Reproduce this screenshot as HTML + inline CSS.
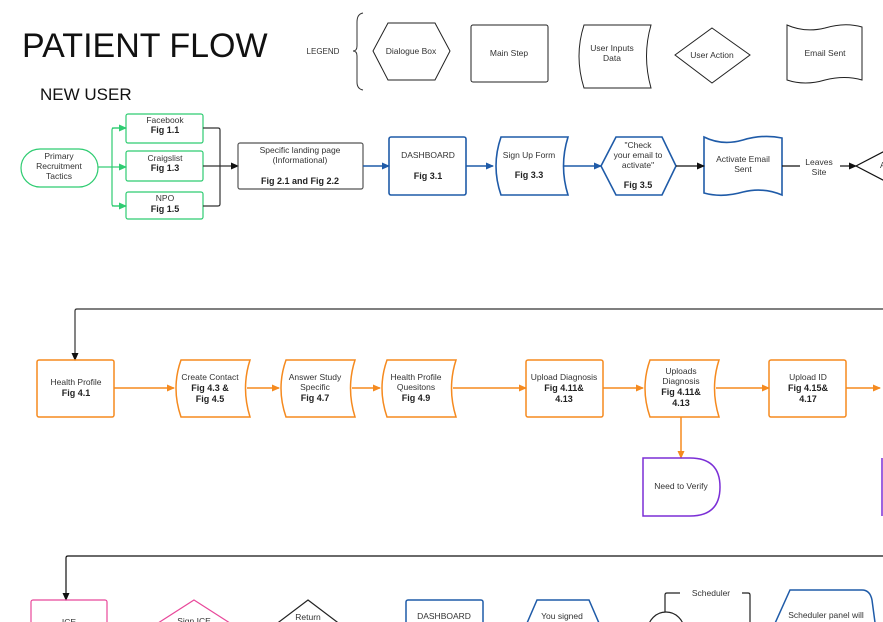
<!DOCTYPE html>
<html><head><meta charset="utf-8"><style>
html,body{margin:0;padding:0;background:#fff;}
svg{display:block;font-family:"Liberation Sans",sans-serif;}
text{fill:#333;font-size:8.5px;text-anchor:middle;}
.b{font-weight:bold;fill:#222;font-size:9px;}
</style></head><body>
<svg width="883" height="622" viewBox="0 0 883 622" xmlns="http://www.w3.org/2000/svg">
<defs>
<marker id="ak" markerWidth="8" markerHeight="8" refX="7" refY="4" orient="auto" markerUnits="userSpaceOnUse"><path d="M0,0.5 L8,4 L0,7.5z" fill="#111"/></marker>
<marker id="ag" markerWidth="8" markerHeight="8" refX="7" refY="4" orient="auto" markerUnits="userSpaceOnUse"><path d="M0,0.5 L8,4 L0,7.5z" fill="#2ecc71"/></marker>
<marker id="ab" markerWidth="8" markerHeight="8" refX="7" refY="4" orient="auto" markerUnits="userSpaceOnUse"><path d="M0,0.5 L8,4 L0,7.5z" fill="#1f5ba8"/></marker>
<marker id="ao" markerWidth="8" markerHeight="8" refX="7" refY="4" orient="auto" markerUnits="userSpaceOnUse"><path d="M0,0.5 L8,4 L0,7.5z" fill="#f58a1f"/></marker>
</defs>

<text x="22" y="57" style="font-size:34px;fill:#111;text-anchor:start">PATIENT FLOW</text>
<text x="40" y="100" style="font-size:17px;fill:#111;text-anchor:start">NEW USER</text>

<!-- legend -->
<text x="323" y="54" style="font-size:8px">LEGEND</text>
<path d="M363,13 Q357,14 357,22 L357,46 Q357,51 353,51 Q357,51 357,56 L357,82 Q357,89 363,90" fill="none" stroke="#333" stroke-width="1"/>
<g fill="none" stroke="#222" stroke-width="1">
<path d="M388,23 L435,23 L450,51 L435,80 L388,80 L373,51z"/>
<rect x="471" y="25" width="77" height="57" rx="2"/>
<path d="M584,25 L651,25 Q642,56 651,88 L584,88 Q574,56 584,25z"/>
<path d="M712,28 L750,55 L712,83 L675,55z"/>
<path d="M787,25 Q805,33 825,28 Q845,22 862,27 L862,80 Q845,75 825,80 Q805,86 787,80z"/>
</g>
<text x="411" y="54">Dialogue Box</text>
<text x="509" y="56">Main Step</text>
<text x="612" y="51">User Inputs</text><text x="612" y="61">Data</text>
<text x="712" y="58">User Action</text>
<text x="825" y="56">Email Sent</text>

<!-- row 1 -->
<g fill="none" stroke="#2ecc71" stroke-width="1.2">
<rect x="21" y="149" width="77" height="38" rx="19"/>
<rect x="126" y="114" width="77" height="29" rx="2"/>
<rect x="126" y="151" width="77" height="30" rx="2"/>
<rect x="126" y="192" width="77" height="27" rx="2"/>
<path d="M98,167 L112,167"/>
<path d="M126,128 L114,128 Q112,128 112,130 L112,204 Q112,206 114,206 L126,206" />
<path d="M112,167 L126,167" marker-end="url(#ag)"/>
<path d="M112,128 L126,128" marker-end="url(#ag)"/>
<path d="M112,206 L126,206" marker-end="url(#ag)"/>
</g>
<g fill="none" stroke="#333" stroke-width="1.2">
<path d="M203,128 L218,128 Q220,128 220,130 L220,204 Q220,206 218,206 L203,206"/>
<path d="M203,166 L238,166" marker-end="url(#ak)"/>
<rect x="238" y="143" width="125" height="46" rx="2" stroke="#555"/>
</g>
<text x="59" y="159">Primary</text><text x="59" y="169">Recruitment</text><text x="59" y="179">Tactics</text>
<text x="165" y="123">Facebook</text><text class="b" x="165" y="133">Fig 1.1</text>
<text x="165" y="161">Craigslist</text><text class="b" x="165" y="171">Fig 1.3</text>
<text x="165" y="201">NPO</text><text class="b" x="165" y="212">Fig 1.5</text>
<text x="300" y="153">Specific landing page</text><text x="300" y="163">(Informational)</text>
<text class="b" x="300" y="184">Fig 2.1 and Fig 2.2</text>

<g fill="none" stroke="#1f5ba8" stroke-width="1.6">
<path d="M363,166 L389,166" marker-end="url(#ab)"/>
<rect x="389" y="137" width="77" height="58" rx="2"/>
<path d="M466,166 L493,166" marker-end="url(#ab)"/>
<path d="M501,137 L568,137 Q559,166 568,195 L501,195 Q491,166 501,137z"/>
<path d="M563,166 L601,166" marker-end="url(#ab)"/>
<path d="M616,137 L662,137 L676,166 L662,195 L616,195 L601,166z"/>
<path d="M704,137 Q722,146 743,140 Q763,134 782,138 L782,195 Q763,187 743,192 Q722,198 704,193z"/>
</g>
<text x="428" y="158">DASHBOARD</text><text class="b" x="428" y="179">Fig 3.1</text>
<text x="529" y="158">Sign Up Form</text><text class="b" x="529" y="178">Fig 3.3</text>
<text x="638" y="148">"Check</text><text x="638" y="158">your email to</text><text x="638" y="168">activate"</text><text class="b" x="638" y="188">Fig 3.5</text>
<text x="743" y="162">Activate Email</text><text x="743" y="172">Sent</text>
<g fill="none" stroke="#111" stroke-width="1.2">
<path d="M676,166 L704,166" marker-end="url(#ak)"/>
<path d="M782,166 L800,166"/>
<path d="M840,166 L856,166" marker-end="url(#ak)"/>
<path d="M900,143 L856,166 L900,189"/>
</g>
<text x="819" y="165">Leaves</text><text x="819" y="175">Site</text>
<text x="880" y="168" style="text-anchor:start">Ac</text>

<!-- row 2 -->
<path d="M883,309 L77,309 Q75,309 75,311 L75,360" fill="none" stroke="#333" stroke-width="1.2" marker-end="url(#ak)"/>
<g fill="none" stroke="#f58a1f" stroke-width="1.5">
<rect x="37" y="360" width="77" height="57" rx="2"/>
<path d="M114,388 L174,388" marker-end="url(#ao)"/>
<path d="M181,360 L250,360 Q241,388 250,417 L181,417 Q171,388 181,360z"/>
<path d="M247,388 L279,388" marker-end="url(#ao)"/>
<path d="M286,360 L355,360 Q346,388 355,417 L286,417 Q276,388 286,360z"/>
<path d="M352,388 L380,388" marker-end="url(#ao)"/>
<path d="M387,360 L456,360 Q447,388 456,417 L387,417 Q377,388 387,360z"/>
<path d="M453,388 L526,388" marker-end="url(#ao)"/>
<rect x="526" y="360" width="77" height="57" rx="2"/>
<path d="M603,388 L643,388" marker-end="url(#ao)"/>
<path d="M650,360 L719,360 Q710,388 719,417 L650,417 Q640,388 650,360z"/>
<path d="M716,388 L769,388" marker-end="url(#ao)"/>
<rect x="769" y="360" width="77" height="57" rx="2"/>
<path d="M846,388 L880,388" marker-end="url(#ao)"/>
<path d="M890,360 Q878,388 890,417"/>
<path d="M681,417 L681,458" marker-end="url(#ao)"/>
</g>
<text x="76" y="385">Health Profile</text><text class="b" x="76" y="396">Fig 4.1</text>
<text x="210" y="380">Create Contact</text><text class="b" x="210" y="391">Fig 4.3 &amp;</text><text class="b" x="210" y="402">Fig 4.5</text>
<text x="315" y="380">Answer Study</text><text x="315" y="390">Specific</text><text class="b" x="315" y="401">Fig 4.7</text>
<text x="416" y="380">Health Profile</text><text x="416" y="390">Quesitons</text><text class="b" x="416" y="401">Fig 4.9</text>
<text x="564" y="380">Upload Diagnosis</text><text class="b" x="564" y="391">Fig 4.11&amp;</text><text class="b" x="564" y="402">4.13</text>
<text x="681" y="374">Uploads</text><text x="681" y="384">Diagnosis</text><text class="b" x="681" y="395">Fig 4.11&amp;</text><text class="b" x="681" y="406">4.13</text>
<text x="808" y="380">Upload ID</text><text class="b" x="808" y="391">Fig 4.15&amp;</text><text class="b" x="808" y="402">4.17</text>
<g fill="none" stroke="#7b2fd6" stroke-width="1.5">
<path d="M643,458 L690,458 Q720,458 720,487 Q720,516 690,516 L643,516z"/>
<path d="M882,458 L882,516"/>
</g>
<text x="681" y="489">Need to Verify</text>

<!-- row 3 -->
<path d="M883,556 L68,556 Q66,556 66,558 L66,600" fill="none" stroke="#111" stroke-width="1.2" marker-end="url(#ak)"/>
<g fill="none" stroke-width="1.2">
<rect x="31" y="600" width="76" height="40" rx="2" stroke="#e8489a"/>
<path d="M194,600 L233,625 L155,625z" stroke="#e8489a"/>
<path d="M308,600 L345,628 L271,628z" stroke="#222"/>
<rect x="406" y="600" width="77" height="40" rx="2" stroke="#1f5ba8" stroke-width="1.5"/>
<path d="M537,600 L589,600 L602,630 L524,630z" stroke="#1f5ba8" stroke-width="1.5"/>
<circle cx="666" cy="630" r="18" stroke="#222"/>
<path d="M680,593 L667,593 Q665,593 665,595 L665,612" stroke="#222"/>
<path d="M742,593 L748,593 Q750,593 750,595 L750,622" stroke="#222"/>
<path d="M790,590 L862,590 Q870,590 872,600 L876,630 L772,630 Z" stroke="#1f5ba8" stroke-width="1.5"/>
</g>
<text x="69" y="625">ICE</text>
<text x="194" y="624">Sign ICE</text>
<text x="308" y="620">Return</text>
<text x="444" y="619">DASHBOARD</text>
<text x="562" y="619">You signed</text>
<text x="711" y="596">Scheduler</text>
<text x="826" y="618">Scheduler panel will</text>
</svg>
</body></html>
